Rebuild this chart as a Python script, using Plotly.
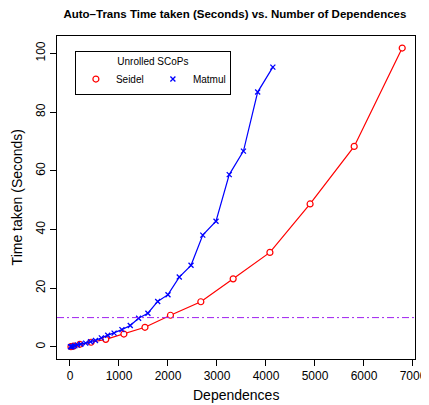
import plotly.graph_objects as go

# Data
seidel_deps = [20, 70, 200, 430, 730, 1100, 1530, 2050, 2670, 3330, 4080, 4900, 5800, 6780]
seidel_time = [0.1, 0.3, 0.9, 1.6, 2.6, 4.4, 6.7, 10.8, 15.4, 23.2, 32.2, 48.7, 68.3, 101.8]

matmul_deps = [10, 30, 60, 100, 150, 220, 320, 420, 520, 640, 770, 900, 1060, 1230,
               1400, 1590, 1790, 2000, 2230, 2470, 2710, 2980, 3250, 3540, 3830, 4140]
matmul_time = [0.05, 0.1, 0.2, 0.4, 0.7, 0.9, 1.3, 1.8, 2.2, 3.1, 4.0, 4.7, 5.9, 7.3,
               9.8, 11.5, 15.5, 17.8, 23.8, 27.8, 38.1, 42.8, 58.7, 66.7, 86.8, 95.3]

threshold = 10
x_ticks = [0, 1000, 2000, 3000, 4000, 5000, 6000, 7000]
y_ticks = [0, 20, 40, 60, 80, 100]

FONT = "Liberation Sans, Arial, Helvetica, sans-serif"

seidel_marker = dict(symbol="circle", size=6, color="white", line=dict(color="red", width=1.2))
matmul_marker = dict(symbol="x-thin-open", size=5, color="blue", line=dict(color="blue", width=1.3))

fig = go.Figure()
fig.add_trace(go.Scatter(
    x=seidel_deps, y=seidel_time, mode="lines+markers", name="Seidel",
    line=dict(color="red", width=1.2), marker=seidel_marker, showlegend=False,
))
fig.add_trace(go.Scatter(
    x=matmul_deps, y=matmul_time, mode="lines+markers", name="Matmul",
    line=dict(color="blue", width=1.2), marker=matmul_marker, showlegend=False,
))
# legend-only entries (markers only, like R's legend with pch)
fig.add_trace(go.Scatter(x=[None], y=[None], mode="markers", name="Seidel", marker=seidel_marker))
fig.add_trace(go.Scatter(x=[None], y=[None], mode="markers", name="Matmul", marker=matmul_marker))

fig.add_hline(y=threshold, line=dict(color="#A020F0", width=1, dash="7px,3px,2px,3px"))

fig.add_annotation(text="Dependences", xref="paper", yref="paper", x=0.5, y=-0.111,
                   xanchor="center", yanchor="middle", showarrow=False, font=dict(size=14))
fig.add_annotation(text="Time taken (Seconds)", xref="paper", yref="paper", x=-0.112, y=0.5,
                   xanchor="center", yanchor="middle", textangle=-90, showarrow=False,
                   font=dict(size=14))

# The page adds an 8px body margin, so the figure is drawn 8px smaller
# and every position is shifted accordingly.
fig.update_layout(
    width=421, height=397,
    margin=dict(l=49, r=14, t=28, b=46),
    paper_bgcolor="white", plot_bgcolor="white",
    font=dict(family=FONT, size=12, color="black"),
    title=dict(text="<b>Auto–Trans Time taken (Seconds) vs. Number of Dependences</b>",
               x=0.539, xanchor="center", xref="container",
               y=0.985, yanchor="middle", yref="container",
               font=dict(size=11.5, color="black")),
    showlegend=True,
    legend=dict(
        x=0.05, y=0.955, xanchor="left", yanchor="top",
        orientation="h",
        title=dict(text="Unrolled SCoPs", side="top center", font=dict(size=10)),
        font=dict(size=10),
        bordercolor="black", borderwidth=1, bgcolor="white",
        itemwidth=30, entrywidth=32, entrywidthmode="pixels",
    ),
    xaxis=dict(
        range=[-265, 7041], tickvals=x_ticks, ticks="outside", ticklen=6,
        tickcolor="black", showline=True, linecolor="black", linewidth=1, mirror=True,
        showgrid=False, zeroline=False, automargin=False,
        tickfont=dict(size=12),
    ),
    yaxis=dict(
        range=[-4.1, 105.9], tickvals=y_ticks, ticks="outside", ticklen=6,
        tickcolor="black", showline=True, linecolor="black", linewidth=1, mirror=True,
        showgrid=False, zeroline=False, tickangle=-90, automargin=False,
        tickfont=dict(size=12),
    ),
)

# Hide page scrollbars so the full 429px width stays visible.
fig.write_html(
    "out.html",
    post_script="document.documentElement.style.overflow='hidden';"
                "document.body.style.overflow='hidden';",
)
